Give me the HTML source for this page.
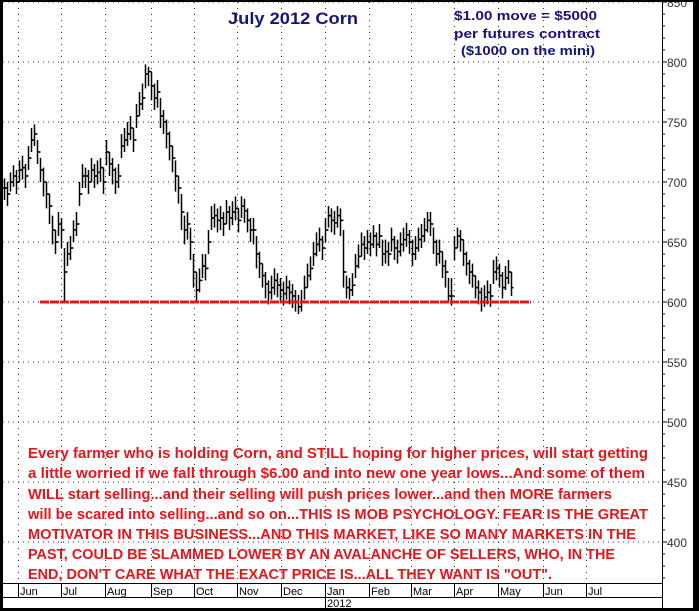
<!DOCTYPE html>
<html><head><meta charset="utf-8"><style>
html,body{margin:0;padding:0;background:#000;}
svg{display:block;font-family:"Liberation Sans",Arial,sans-serif;}
</style></head><body>
<svg id="c" width="699" height="611" viewBox="0 0 699 611">
<rect x="3" y="2" width="690" height="606" fill="#fff"/>
<g id="grid"></g>
<g id="axis"></g>
<g id="xaxis"></g>
<g id="bars"></g>
<line id="support" stroke="#e8141a" stroke-width="3" stroke-dasharray="9,1"/>
<text x="228" y="24" font-size="17" font-weight="bold" fill="#14147a" textLength="130" lengthAdjust="spacingAndGlyphs">July 2012 Corn</text>
<g font-size="13" font-weight="bold" fill="#14147a">
<text x="454" y="20" textLength="143" lengthAdjust="spacingAndGlyphs">$1.00 move = $5000</text>
<text x="454" y="38" textLength="146" lengthAdjust="spacingAndGlyphs">per futures contract</text>
<text x="461" y="55" textLength="134" lengthAdjust="spacingAndGlyphs">($1000 on the mini)</text>
</g>
<g font-size="14.5" font-weight="bold" fill="#e8141a" lengthAdjust="spacingAndGlyphs">
<text x="28" y="458" textLength="620" lengthAdjust="spacingAndGlyphs">Every farmer who is holding Corn, and STILL hoping for higher prices, will start getting</text>
<text x="28" y="478" textLength="617" lengthAdjust="spacingAndGlyphs">a little worried if we fall through $6.00 and into new one year lows...And some of them</text>
<text x="28" y="499" textLength="584" lengthAdjust="spacingAndGlyphs">WILL start selling...and their selling will push prices lower...and then MORE farmers</text>
<text x="28" y="519" textLength="620" lengthAdjust="spacingAndGlyphs">will be scared into selling...and so on...THIS IS MOB PSYCHOLOGY. FEAR IS THE GREAT</text>
<text x="28" y="539" textLength="608" lengthAdjust="spacingAndGlyphs">MOTIVATOR IN THIS BUSINESS...AND THIS MARKET, LIKE SO MANY MARKETS IN THE</text>
<text x="28" y="559" textLength="587" lengthAdjust="spacingAndGlyphs">PAST, COULD BE SLAMMED LOWER BY AN AVALANCHE OF SELLERS, WHO, IN THE</text>
<text x="28" y="579" textLength="524" lengthAdjust="spacingAndGlyphs">END, DON'T CARE WHAT THE EXACT PRICE IS...ALL THEY WANT IS "OUT".</text>
</g>
<rect x="0" y="0" width="699" height="2" fill="#000"/>
<rect x="0" y="0" width="3" height="611" fill="#000"/>
<rect x="0" y="608" width="699" height="3" fill="#000"/>
<rect x="694" y="0" width="5" height="611" fill="#000"/>
</svg>
<script>
const priceTicks = [850, 800, 750, 700, 650, 600, 550, 500, 450, 400];
const months = ["Jun","Jul","Aug","Sep","Oct","Nov","Dec","Jan","Feb","Mar","Apr","May","Jun","Jul"];
const supportLevel = 600;
const cl = [695,690,700,705,700,710,712,705,720,735,740,725,710,700,690,680,660,650,665,660,625,640,645,660,665,690,705,705,700,710,705,708,712,700,725,715,710,700,705,730,735,740,745,735,755,765,770,790,792,780,770,775,755,750,740,730,720,705,695,675,660,665,650,625,610,618,630,628,650,670,672,668,670,665,675,670,675,678,668,680,676,668,660,660,640,632,622,615,608,612,618,614,610,607,612,608,605,600,596,600,612,622,628,640,648,652,645,660,672,668,666,672,668,625,612,610,614,630,638,648,645,650,648,655,648,655,640,642,640,652,645,642,648,652,656,650,640,645,652,655,660,668,665,650,640,642,630,625,605,605,645,655,652,640,632,625,622,612,608,600,604,608,605,625,628,622,612,620,625,612];
const hi = [703,700,708,714,710,718,722,715,730,745,748,735,720,712,700,690,672,660,675,670,645,650,655,668,675,700,715,712,710,720,715,718,720,712,735,725,720,712,715,740,745,750,755,745,765,775,782,798,796,792,782,785,770,760,752,742,730,718,705,690,672,675,662,640,625,628,640,640,660,680,682,678,680,675,685,680,684,688,678,688,686,678,670,670,655,642,632,625,618,622,628,624,620,617,622,618,615,610,606,610,622,632,638,650,658,662,655,670,680,678,676,680,678,660,622,620,624,640,648,658,655,660,658,664,658,665,652,652,650,662,655,652,658,662,666,660,652,655,662,665,670,675,675,662,652,652,642,635,620,620,655,662,660,652,642,635,632,622,618,612,614,618,615,635,638,632,625,630,635,625];
const lo = [685,680,692,696,690,700,702,695,710,725,730,715,700,688,678,665,648,640,655,645,600,630,635,650,655,680,695,695,690,700,695,698,700,690,714,705,698,690,695,720,725,730,735,725,745,755,760,778,780,768,760,762,745,740,728,718,708,692,682,660,648,652,635,612,600,608,620,618,640,660,662,658,660,655,665,660,664,668,658,670,666,658,650,648,628,620,612,603,598,602,606,604,600,597,602,598,595,592,590,592,602,612,618,630,638,642,635,650,662,658,656,662,655,612,603,602,605,620,628,638,635,640,638,645,638,645,630,632,630,642,635,632,638,642,646,640,630,635,642,645,650,658,655,640,630,632,620,612,600,597,635,645,642,630,622,615,612,603,598,592,596,598,596,615,618,612,603,610,615,605];
const monthX = [18,61,105,151,194,237,281,325,369,411,454,498,543,586];

const NS = "http://www.w3.org/2000/svg";
const plotL = 3, plotR = 662, plotT = 2, plotB = 583;
function y(p){ return 62 + (800 - p) * 1.2; }
function x(i){ return 4 + i * 3; }
function mk(tag, attrs, parent){ const e = document.createElementNS(NS, tag); for (const k in attrs) e.setAttribute(k, attrs[k]); parent.appendChild(e); return e; }

const grid = document.getElementById('grid');
const axis = document.getElementById('axis');
const xaxis = document.getElementById('xaxis');
const bars = document.getElementById('bars');

priceTicks.forEach(p => {
  const gl = mk('line', {x1: plotL, x2: plotR, y1: y(p), y2: y(p), stroke: '#333', 'stroke-width': 1, 'stroke-dasharray': '1,4'}, grid);
  
  
  const t = mk('text', {x: 667, y: y(p) + 5, 'font-size': 12, fill: '#333'}, axis);
  t.textContent = p;
  
  
});
for (let p = 370; p <= 850; p += 10) {
  if (y(p) < plotT || y(p) > plotB) continue;
  mk('line', {x1: plotR, x2: plotR + (p % 50 === 0 ? 5 : 3), y1: y(p), y2: y(p), stroke: '#000', 'stroke-width': 1}, axis);
}
mk('line', {x1: plotR + 0.5, x2: plotR + 0.5, y1: plotT, y2: 609, stroke: '#000', 'stroke-width': 1}, axis);

mk('line', {x1: plotL, x2: plotR, y1: plotB + 0.5, y2: plotB + 0.5, stroke: '#000'}, xaxis);
mk('line', {x1: plotL, x2: plotR, y1: 597.5, y2: 597.5, stroke: '#000'}, xaxis);
months.forEach((m, i) => {
  const gx = monthX[i];
  const gl = mk('line', {x1: gx + 0.5, x2: gx + 0.5, y1: plotT, y2: plotB, stroke: '#333', 'stroke-dasharray': '1,5'}, grid);
  
  
  mk('line', {x1: gx + 0.5, x2: gx + 0.5, y1: plotB, y2: 597, stroke: '#000'}, xaxis);
  const t = mk('text', {x: gx + 2, y: 595, 'font-size': 11, fill: '#000'}, xaxis);
  t.textContent = m;
  
  
});
mk('line', {x1: 325.5, x2: 325.5, y1: 597, y2: 608, stroke: '#000'}, xaxis);
const yr = mk('text', {x: 327, y: 607, 'font-size': 11, fill: '#000'}, xaxis);
yr.textContent = '2012';



cl.forEach((c, i) => {
  const g = mk('g', {stroke: '#000', 'stroke-width': 1.5}, bars);
  
  
  const bx = Math.round(x(i)) + 0.5;
  mk('line', {x1: bx, x2: bx, y1: y(hi[i]), y2: y(lo[i])}, g);
  const o = i > 0 ? cl[i - 1] : c;
  mk('line', {x1: bx - 2, x2: bx, y1: y(o), y2: y(o)}, g);
  mk('line', {x1: bx, x2: bx + 2, y1: y(c), y2: y(c)}, g);
});

const s = document.getElementById('support');
s.setAttribute('x1', 40); s.setAttribute('x2', 531);
s.setAttribute('y1', y(supportLevel)); s.setAttribute('y2', y(supportLevel));
</script>
</body></html>
